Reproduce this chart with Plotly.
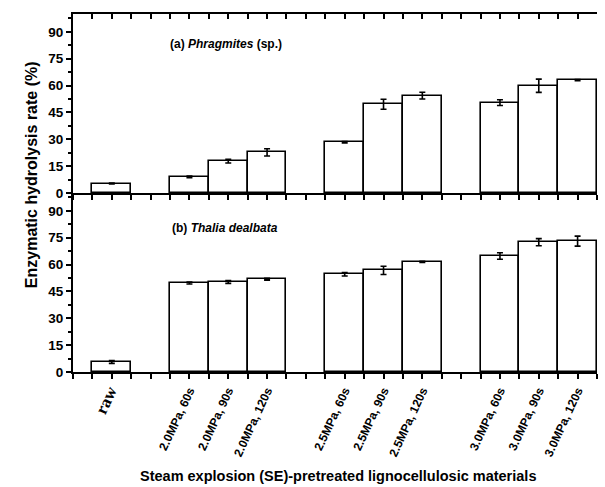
import plotly.graph_objects as go
import numpy as np

# ---- data ----
conditions = ["raw", "2.0MPa, 60s", "2.0MPa, 90s", "2.0MPa, 120s",
              "2.5MPa, 60s", "2.5MPa, 90s", "2.5MPa, 120s",
              "3.0MPa, 60s", "3.0MPa, 90s", "3.0MPa, 120s"]
group_of = [0, 1, 1, 1, 2, 2, 2, 3, 3, 3]          # raw, 2.0, 2.5, 3.0 MPa
index_in_group = [0, 0, 1, 2, 0, 1, 2, 0, 1, 2]

phragmites = [5.3, 9.0, 17.8, 22.7, 28.3, 49.6, 54.4, 50.5, 59.9, 63.1]
phragmites_err = [0.2, 0.5, 1.0, 2.0, 0.4, 2.8, 1.9, 1.6, 3.7, 0.3]
thalia = [5.6, 49.7, 50.3, 51.8, 54.6, 56.8, 61.5, 64.8, 72.5, 73.1]
thalia_err = [0.8, 0.5, 0.8, 0.5, 1.0, 2.3, 0.3, 1.8, 2.0, 2.8]

y_ticks = [0, 15, 30, 45, 60, 75, 90]

# positions: one empty slot between groups
xpos = [4 * g - 2 + i if g > 0 else 0 for g, i in zip(group_of, index_in_group)]
xr = [-1, max(xpos) + 0.5]
tick_pos = [float(v) for v in np.arange(xr[0], xr[1] + 0.01, 0.5)]
tick_text = []
for t in tick_pos:
    if float(t).is_integer() and int(t) in xpos:
        lab = conditions[xpos.index(int(t))]
        if lab == "raw":
            lab = "<span style='font-family:Liberation Serif;font-size:17px'>raw</span>"
        tick_text.append(lab)
    else:
        tick_text.append("")

FONT = "Liberation Sans, Arial, sans-serif"

fig = go.Figure()
for vals, errs, xa, ya in [(thalia, thalia_err, "x", "y"),
                           (phragmites, phragmites_err, "x2", "y2")]:
    fig.add_trace(go.Bar(
        x=xpos, y=vals, width=1.0, xaxis=xa, yaxis=ya,
        marker=dict(color="white", line=dict(color="black", width=1.6)),
        error_y=dict(type="data", array=errs, color="black", thickness=1.6, width=3),
        showlegend=False, hoverinfo="x+y",
    ))
# invisible carrier so the top frame axis of panel (a) is drawn
fig.add_trace(go.Scatter(x=xpos, y=phragmites, xaxis="x3", yaxis="y2", mode="markers",
                         marker=dict(opacity=0), showlegend=False, hoverinfo="skip"))


def xcfg(**kw):
    d = dict(range=xr, tickmode="array", tickvals=tick_pos, ticktext=tick_text,
             showline=True, linecolor="black", linewidth=2, tickcolor="black",
             tickwidth=1.6, ticklen=5, ticks="outside", showgrid=False,
             zeroline=False, showticklabels=False)
    d.update(kw)
    return d

common_y = dict(range=[0, 100], tickmode="array", tickvals=y_ticks, showline=True,
                linecolor="black", linewidth=2, ticks="outside", tickcolor="black",
                tickwidth=1.5, ticklen=5, showgrid=False, zeroline=False,
                tickfont=dict(family=FONT, size=13.5, color="black", weight="bold"),
                minor=dict(ticks="outside", dtick=7.5, tick0=0, ticklen=3,
                           tickcolor="black", tickwidth=1.5, showgrid=False))

fig.update_layout(
    width=605, height=487,
    margin=dict(l=73, r=8, t=14, b=115),
    plot_bgcolor="white", paper_bgcolor="white",
    bargap=0,
    xaxis=xcfg(anchor="y", tickangle=-65, showticklabels=True,
               tickfont=dict(family=FONT, size=12, color="black", weight="bold")),
    xaxis2=xcfg(anchor="y2", mirror=True),
    xaxis3=xcfg(anchor="y2", overlaying="x2", side="top", ticks="inside"),
    yaxis=dict(common_y, domain=[0, 0.5], anchor="x"),
    yaxis2=dict(common_y, domain=[0.5, 1.0], anchor="x2"),
)

fig.add_annotation(text="(a) <i>Phragmites</i> (sp.)", xref="x2", yref="y2",
                   x=1.45, y=83, xanchor="left", yanchor="middle", showarrow=False,
                   font=dict(family=FONT, size=12, color="black", weight="bold"))
fig.add_annotation(text="(b) <i>Thalia dealbata</i>", xref="x", yref="y",
                   x=1.5, y=80.5, xanchor="left", yanchor="middle", showarrow=False,
                   font=dict(family=FONT, size=12, color="black", weight="bold"))
fig.add_annotation(text="Enzymatic hydrolysis rate (%)", xref="paper", yref="paper",
                   x=-0.08, y=0.55, xanchor="center", yanchor="middle", textangle=-90,
                   showarrow=False,
                   font=dict(family=FONT, size=16, color="black", weight="bold"))
fig.add_annotation(text="Steam explosion (SE)-pretreated lignocellulosic materials",
                   xref="paper", yref="paper", x=0.505, y=-0.29, xanchor="center",
                   yanchor="middle", showarrow=False,
                   font=dict(family=FONT, size=14.5, color="black", weight="bold"))

fig.write_html("out.html")
